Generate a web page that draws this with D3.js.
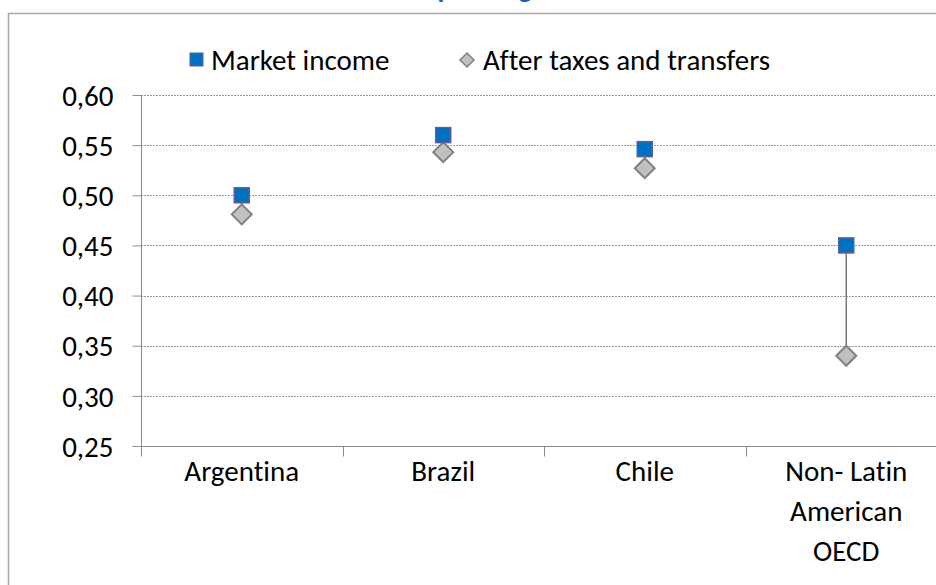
<!DOCTYPE html>
<html>
<head>
<meta charset="utf-8">
<script src="https://cdn.jsdelivr.net/npm/d3@7"></script>
<style>
  html, body { margin: 0; padding: 0; background: #fff; }
  svg { display: block; }
  text { font-family: Carlito, Calibri, "Open Sans", sans-serif; fill: #000; font-variant-ligatures: none; }
</style>
</head>
<body>
<svg id="chart" width="936" height="585"></svg>
<script>
// Gini coefficients per group
const categories = ["Argentina", "Brazil", "Chile", "Non- Latin American OECD"];
const categoryLines = [["Argentina"], ["Brazil"], ["Chile"], ["Non- Latin", "American", "OECD"]];
const marketIncome = [0.50, 0.56, 0.546, 0.45];
const afterTaxes = [0.481, 0.543, 0.527, 0.34];
const yTicks = [0.25, 0.30, 0.35, 0.40, 0.45, 0.50, 0.55, 0.60];
const seriesNames = ["Market income", "After taxes and transfers"];
const titleText = "Gini before and after taxes and spending";

const svg = d3.select("#chart");
const W = 936, H = 585;
const plotL = 141, plotR = 947, plotT = 95, plotB = 446;
const fs = "29px";

// outer frame
svg.append("path")
  .attr("d", `M8.5,${H + 2}V13.5H${W + 2}`)
  .attr("fill", "none").attr("stroke", "#a6a6a6").attr("stroke-width", 1.5);

// title, placed above the frame
const title = svg.append("text")
  .attr("y", -2)
  .style("font-weight", "bold").style("font-size", "28px")
  .style("fill", "#0b63c5")
  .text(titleText);
{
  const node = title.node();
  const pi = titleText.indexOf("spending") + 1;
  const pre = node.getSubStringLength(0, pi);
  const pw = node.getSubStringLength(pi, 1);
  title.attr("x", 445 - pre - pw / 2);
}

const x = d3.scaleBand().domain(categories).range([plotL, plotR]).padding(0);
const y = d3.scaleLinear().domain([0.25, 0.60]).range([plotB, plotT]);
const fmt = v => d3.format(".2f")(v).replace(".", ",");

// horizontal gridlines
svg.append("g").selectAll("line").data(yTicks.slice(1)).join("line")
  .attr("x1", plotL).attr("x2", W)
  .attr("y1", d => Math.round(y(d)) + 0.5).attr("y2", d => Math.round(y(d)) + 0.5)
  .attr("stroke", "#9a9a9a").attr("stroke-width", 1)
  .attr("stroke-dasharray", "2,1");

// y axis
const yAxis = d3.axisLeft(y).tickValues(yTicks).tickFormat(fmt).tickSize(9).tickPadding(19);
const gy = svg.append("g").attr("transform", `translate(${plotL + 0.5},0)`).call(yAxis);
gy.select(".domain").attr("d", `M0,${plotT}V${plotB + 10}`).attr("stroke", "#8c8c8c");
gy.selectAll(".tick line").attr("stroke", "#8c8c8c");
gy.selectAll(".tick text").style("font-size", fs).attr("dy", "0.35em");

// x axis
const gx = svg.append("g").attr("transform", `translate(0,${plotB + 0.5})`);
gx.append("line").attr("x1", plotL).attr("x2", W).attr("stroke", "#8c8c8c");
gx.selectAll("line.tk").data(categories).join("line").attr("class", "tk")
  .attr("x1", d => Math.round(x(d)) + 0.5).attr("x2", d => Math.round(x(d)) + 0.5)
  .attr("y1", 0).attr("y2", 10).attr("stroke", "#8c8c8c");
const labels = gx.selectAll("text.cat").data(categories).join("text").attr("class", "cat")
  .attr("text-anchor", "middle").style("font-size", fs)
  .attr("transform", d => `translate(${x(d) + x.bandwidth() / 2},0)`);
labels.each(function (d, i) {
  d3.select(this).selectAll("tspan").data(categoryLines[i]).join("tspan")
    .attr("x", 0).attr("y", (t, j) => 34 + j * 40).text(t => t);
});

// high-low connectors
const cx = d => x(d) + x.bandwidth() / 2;
svg.append("g").selectAll("line").data(categories).join("line")
  .attr("x1", cx).attr("x2", cx)
  .attr("y1", (d, i) => y(marketIncome[i])).attr("y2", (d, i) => y(afterTaxes[i]))
  .attr("stroke", "#777").attr("stroke-width", 1.5);

// after taxes markers (diamonds)
const dia = 10;
svg.append("g").selectAll("path").data(categories).join("path")
  .attr("d", `M0,${-dia}L${dia},0L0,${dia}L${-dia},0Z`)
  .attr("transform", (d, i) => `translate(${cx(d)},${y(afterTaxes[i])})`)
  .attr("fill", "#c0c0c0").attr("stroke", "#808080").attr("stroke-width", 2);

// market income markers (squares)
const sq = 15;
svg.append("g").selectAll("rect").data(categories).join("rect")
  .attr("x", d => cx(d) - sq / 2).attr("y", (d, i) => y(marketIncome[i]) - sq / 2)
  .attr("width", sq).attr("height", sq)
  .attr("fill", "#0070c0").attr("stroke", "#5a5f9f").attr("stroke-width", 1.5);

// legend
const lg = svg.append("g");
lg.append("rect").attr("x", 190).attr("y", 53).attr("width", 13).attr("height", 13)
  .attr("fill", "#0070c0").attr("stroke", "#5a5f9f").attr("stroke-width", 1);
lg.append("text").attr("x", 211).attr("y", 70).style("font-size", fs).text(seriesNames[0]);
lg.append("path").attr("d", "M467,53L474,60L467,67L460,60Z")
  .attr("fill", "#c0c0c0").attr("stroke", "#808080").attr("stroke-width", 1.5);
lg.append("text").attr("x", 483).attr("y", 70).style("font-size", fs).text(seriesNames[1]);
</script>
</body>
</html>
